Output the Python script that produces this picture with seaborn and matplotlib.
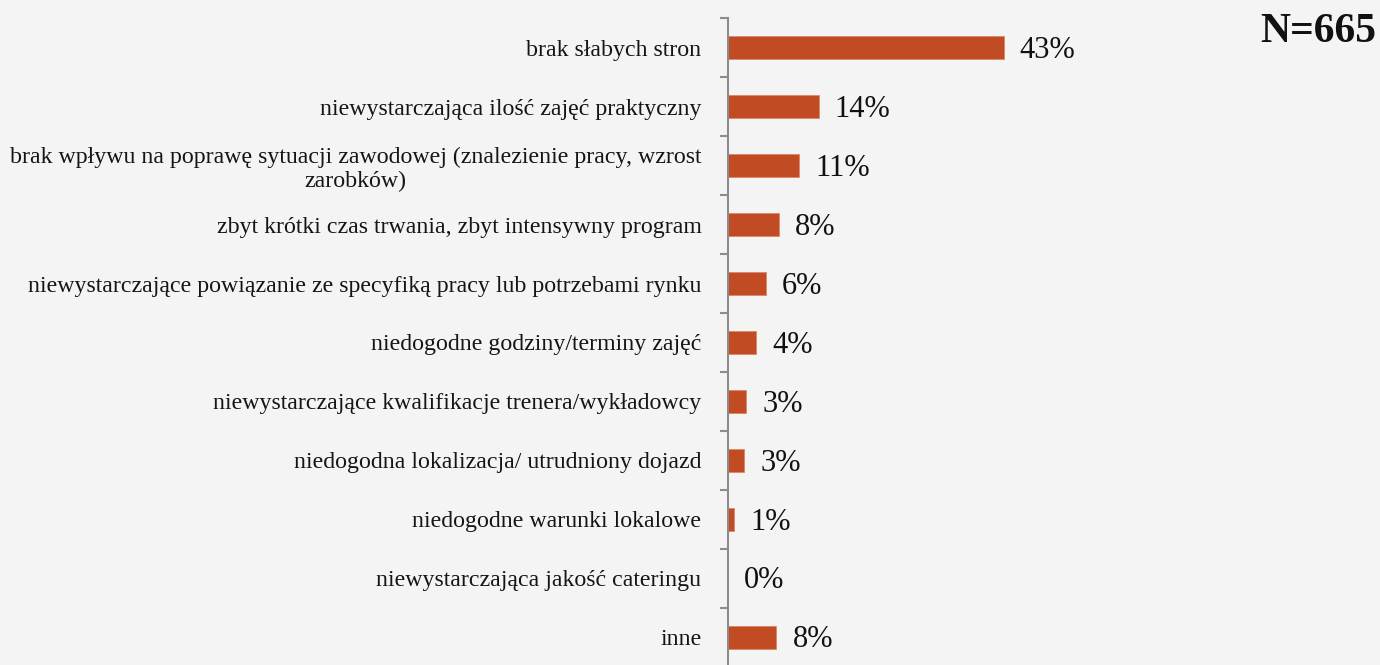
import matplotlib
matplotlib.use("Agg")
import matplotlib.pyplot as plt
import seaborn as sns
import numpy as np
import pandas as pd

categories = [
    "brak słabych stron",
    "niewystarczająca ilość zajęć praktyczny",
    "brak wpływu na poprawę sytuacji zawodowej (znalezienie pracy, wzrost\nzarobków)",
    "zbyt krótki czas trwania, zbyt intensywny program",
    "niewystarczające powiązanie ze specyfiką pracy lub potrzebami rynku",
    "niedogodne godziny/terminy zajęć",
    "niewystarczające kwalifikacje trenera/wykładowcy",
    "niedogodna lokalizacja/ utrudniony dojazd",
    "niedogodne warunki lokalowe",
    "niewystarczająca jakość cateringu",
    "inne",
]
shares = [43.1, 14.2, 11.2, 8.0, 5.9, 4.4, 2.9, 2.6, 1.0, 0.0, 7.6]
sample_label = "N=665"

bg = "#F4F4F4"
bar_color = "#C14B23"

sns.set_theme(style="white")
plt.rcParams["font.family"] = ["Liberation Serif", "DejaVu Serif"]

df = pd.DataFrame({"kategoria": categories, "udzial": shares})

fig = plt.figure(figsize=(13.8, 6.65), dpi=100, facecolor=bg)
ax = fig.add_axes([727.8 / 1380, -1.5 / 665, 512 / 1380, 648 / 665])
ax.set_facecolor(bg)

sns.barplot(data=df, x="udzial", y="kategoria", color=bar_color,
            width=0.39, saturation=1, ax=ax, edgecolor="#D9866A", linewidth=0.6)

ax.set_xlim(0, 80)
ax.set_ylim(len(categories) - 0.5, -0.5)
ax.set_xlabel("")
ax.set_ylabel("")
ax.set_xticks([])

for sp in ["top", "right", "bottom"]:
    ax.spines[sp].set_visible(False)
ax.spines["left"].set_color("#8C8C8C")
ax.spines["left"].set_linewidth(1.5)

# category labels at centres, tick marks at category boundaries
ax.set_yticks(range(len(categories)))
ax.set_yticklabels(categories, fontsize=17.2, color="#151515")
ax.tick_params(axis="y", which="major", length=0, pad=19)
for lab in ax.get_yticklabels():
    lab.set_multialignment("center")
    lab.set_linespacing(1.18)
ax.set_yticks(np.arange(-0.5, len(categories) + 0.5, 1), minor=True)
ax.tick_params(axis="y", which="minor", length=5.5, width=1.5, color="#8C8C8C", left=True)

for i, v in enumerate(shares):
    ax.annotate(f"{v:.0f}%", xy=(v, i), xytext=(11.5, -2), textcoords="offset points",
                ha="left", va="center", fontsize=22, color="#111111")

fig.text(1376 / 1380, 1 - 42 / 665, sample_label, ha="right", va="baseline",
         fontsize=30, fontweight="bold", color="#111111")

fig.savefig("out.png", dpi=100, facecolor=bg)
